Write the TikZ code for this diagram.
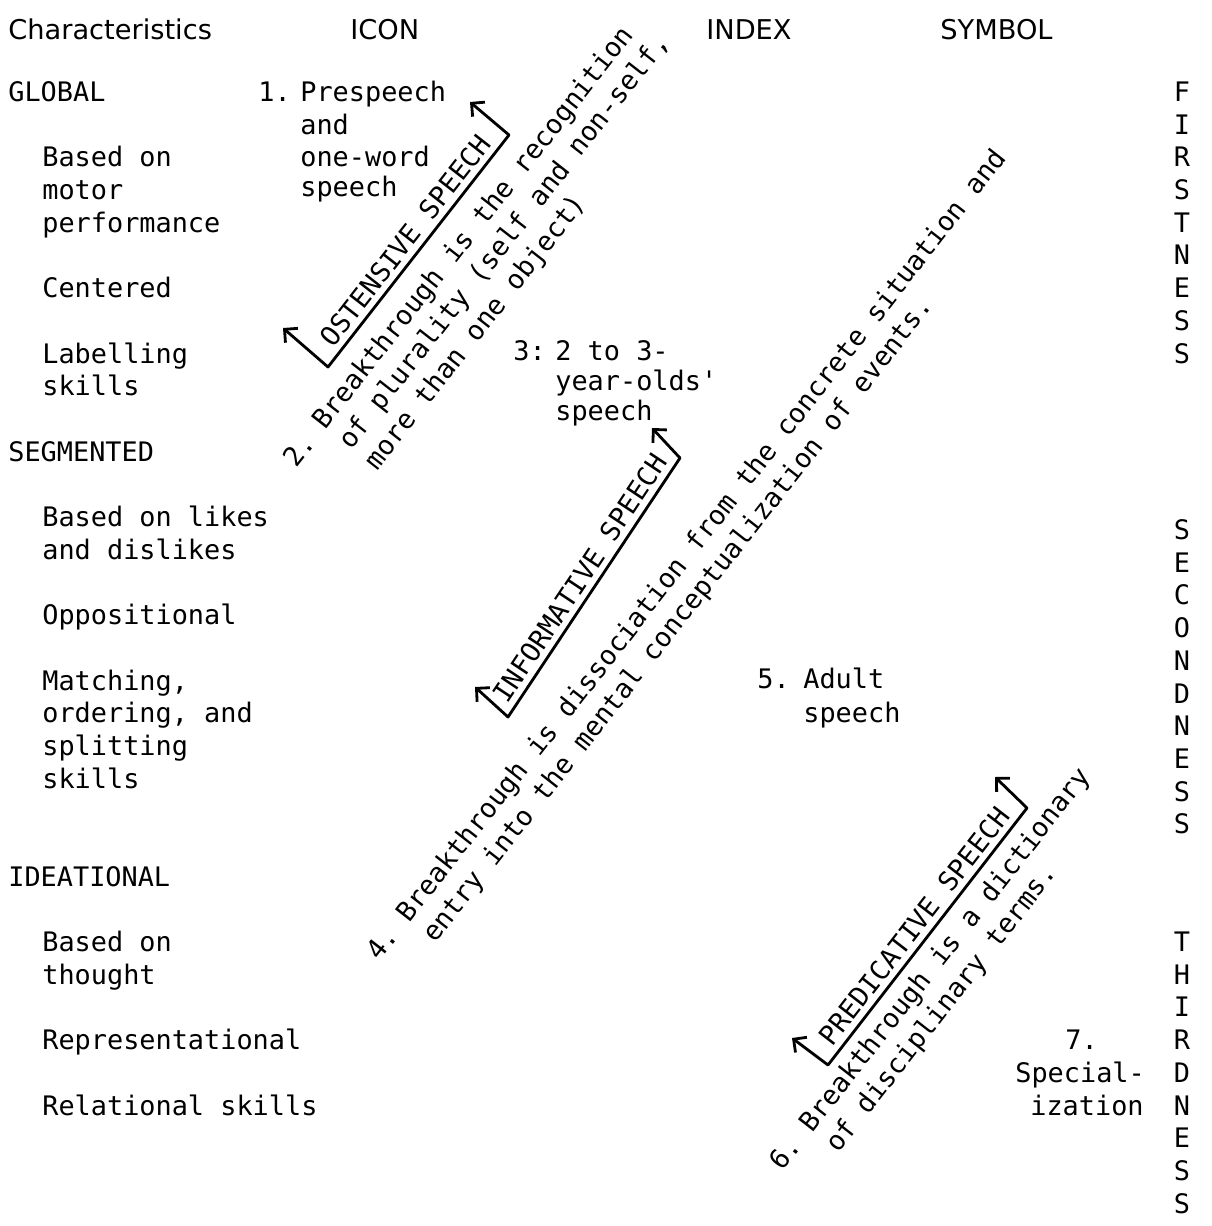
\documentclass[tikz,border=0pt]{standalone}
\usepackage{fontspec}
\setmonofont{DejaVu Sans Mono}
\newfontfamily\headfont{DejaVu Sans}
\usetikzlibrary{arrows.meta}

\tikzset{
  txt/.style={anchor=base west, inner sep=0pt, font=\ttfamily\fontsize{15.3}{18.7}\selectfont},
  hdr/.style={anchor=base west, inner sep=0pt, font=\headfont\fontsize{15.5}{18}\selectfont},
  ltr/.style={anchor=base, inner sep=0pt, font=\ttfamily\fontsize{15.3}{18}\selectfont},
  slant/.style={txt, rotate=52, align=left},
  bracket/.style={line width=1.6pt, line join=round,
    {Straight Barb[length=1.9mm,width=3.8mm]}-{Straight Barb[length=1.9mm,width=3.8mm]}},
  speechlbl/.style={sloped, above=1pt, inner sep=2pt, font=\ttfamily\fontsize{15.3}{18}\selectfont},
}

\begin{document}
\begin{tikzpicture}[x=0.02cm,y=-0.02cm]
\useasboundingbox (0,0) rectangle (1211,1226);

% header
\node[hdr] (hchar) at (8,40) {Characteristics};
\node[hdr] (hicon) at (350,40) {ICON};
\node[hdr] (hindex) at (706,40) {INDEX};
\node[hdr] (hsymbol) at (940,40) {SYMBOL};

% characteristics column
\foreach \xx/\r/\t [count=\i] in {8/0/GLOBAL, 42/2/Based on, 42/3/motor, 42/4/performance,
    42/6/Centered, 42/8/Labelling, 42/9/skills, 8/11/SEGMENTED, 42/13/Based on likes,
    42/14/and dislikes, 42/16/Oppositional, 42/18/{Matching,}, 42/19/{ordering, and},
    42/20/splitting, 42/21/skills, 8/24/IDEATIONAL, 42/26/Based on, 42/27/thought,
    42/29/Representational, 42/31/Relational skills}
  \node[txt] (c\i) at (\xx,101.5+32.7*\r) {\t};

% firstness / secondness / thirdness
\foreach \ch [count=\i from 0] in {F,I,R,S,T,N,E,S,S}
  \node[ltr] (f\i) at (1182,101.5+32.7*\i) {\ch};
\foreach \ch [count=\i from 0] in {S,E,C,O,N,D,N,E,S,S}
  \node[ltr] (s\i) at (1182,539.5+32.7*\i) {\ch};
\foreach \ch [count=\i from 0] in {T,H,I,R,D,N,E,S,S}
  \node[ltr] (t\i) at (1182,951.5+32.7*\i) {\ch};

% stages
\node[txt] (st1) at (258,101.5) {1.};
\node[txt] (st1a) at (300,101.5) {Prespeech};
\node[txt] (st1b) at (300,134.2) {and};
\node[txt] (st1c) at (300,166.9) {one-word};
\node[txt] (st1d) at (300,197) {speech};
\node[txt] (st3) at (513,360.5) {3:};
\node[txt] (st3a) at (555,360.5) {2 to 3-};
\node[txt] (st3b) at (555,390.5) {year-olds'};
\node[txt] (st3c) at (555,420.5) {speech};
\node[txt] (st5) at (757,688.5) {5.};
\node[txt] (st5a) at (803,688.5) {Adult};
\node[txt] (st5b) at (803,722.5) {speech};
\node[txt] (st7) at (1065,1049.5) {7.};
\node[txt] (st7a) at (1015,1082.5) {Special-};
\node[txt] (st7b) at (1030,1115) {ization};

% breakthroughs (anchored on the last line)
\node[slant] (bt2) at (347.6,509.6) {2.~Breakthrough is the recognition\\
  \phantom{2.~}of plurality (self and non-self,\\
  \phantom{2.~}more than one object)};
\node[slant] (bt4) at (405.6,982.3) {4.~Breakthrough is dissociation from the concrete situation and\\
  \phantom{4.~}entry into the mental conceptualization of events.};
\node[slant] (bt6) at (808.6,1192.3) {6.~Breakthrough is a dictionary\\
  \phantom{6.~}of disciplinary terms.};

% speech brackets
\coordinate (oa) at (283,328); \coordinate (ob) at (328,367);
\coordinate (oc) at (509,135); \coordinate (od) at (470,102);
\coordinate (ia) at (475,687); \coordinate (ib) at (508,717);
\coordinate (ic) at (680,458); \coordinate (id) at (652,428);
\coordinate (pa) at (792,1038); \coordinate (pb) at (828,1065);
\coordinate (pc) at (1027,808); \coordinate (pd) at (995,777);
\draw[bracket] (oa) -- (ob) -- node[speechlbl] (ost) {OSTENSIVE SPEECH} (oc) -- (od);
\draw[bracket] (ia) -- (ib) -- node[speechlbl] (inf) {INFORMATIVE SPEECH} (ic) -- (id);
\draw[bracket] (pa) -- (pb) -- node[speechlbl] (pre) {PREDICATIVE SPEECH} (pc) -- (pd);
\end{tikzpicture}
\end{document}
